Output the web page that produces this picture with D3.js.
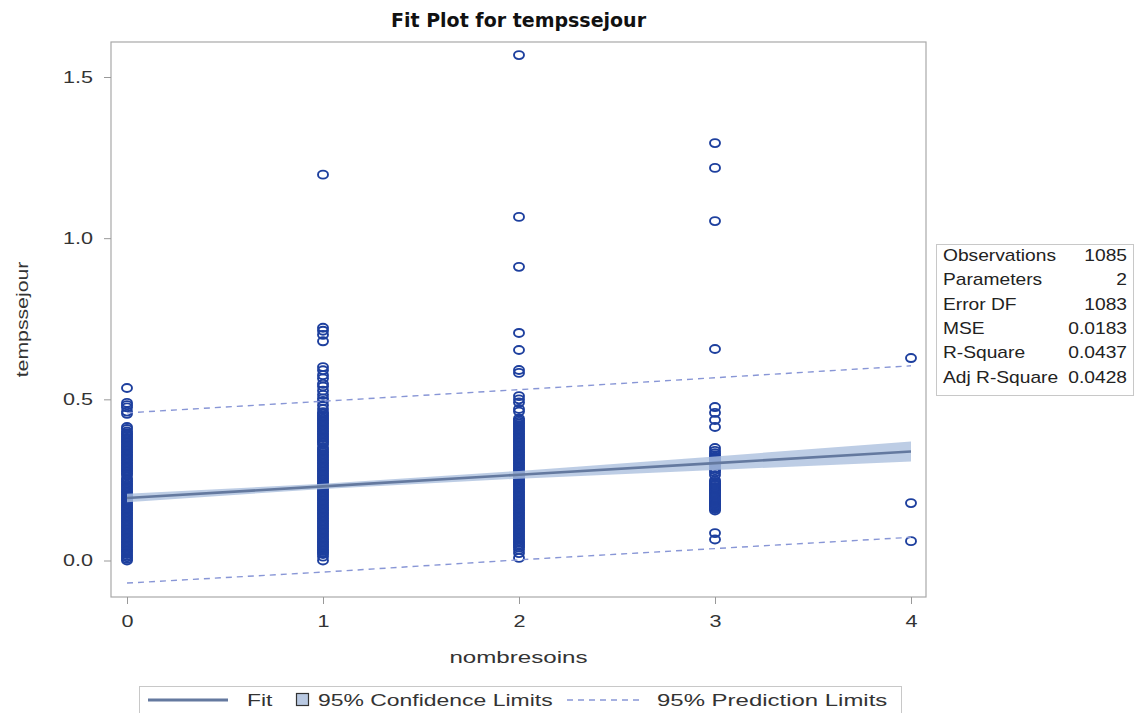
<!DOCTYPE html>
<html>
<head>
<meta charset="utf-8">
<script src="https://cdn.jsdelivr.net/npm/d3@7"></script>
<style>
  html, body { margin: 0; padding: 0; background: #fff; }
  svg { display: block; font-family: "Liberation Sans", Arial, sans-serif; }
</style>
</head>
<body>
<svg id="chart" width="1145" height="713"></svg>
<script>
// ---------------- DATA ----------------
const titleText = "Fit Plot for tempssejour";
const xLabel = "nombresoins";
const yLabel = "tempssejour";
const xTicks = [0, 1, 2, 3, 4];
const yTicks = [0.0, 0.5, 1.0, 1.5];

// observed points (nombresoins -> tempssejour values)
const obsX0 = [0.535, 0.489, 0.482, 0.475, 0.462, 0.455, 0.414, 0.408,
  0.400, 0.395, 0.390, 0.385, 0.380, 0.375, 0.370, 0.365, 0.360, 0.355, 0.350, 0.345, 0.340, 0.335, 0.330, 0.325, 0.320,
  0.315, 0.310, 0.305, 0.300, 0.295, 0.290, 0.285, 0.280, 0.275, 0.270, 0.265, 0.255, 0.250, 0.245, 0.240,
  0.235, 0.230, 0.225, 0.220, 0.215, 0.210, 0.205, 0.200, 0.195, 0.190, 0.185, 0.180, 0.175, 0.170, 0.165, 0.160,
  0.155, 0.150, 0.145, 0.140, 0.135, 0.130, 0.125, 0.120, 0.115, 0.110, 0.105, 0.100, 0.095, 0.090, 0.085, 0.080,
  0.075, 0.070, 0.065, 0.060, 0.055, 0.050, 0.045, 0.040, 0.035, 0.030, 0.026, 0.020, 0.015, 0.010, 0.005, 0.000];
const obsX1 = [1.197, 0.722, 0.713, 0.700, 0.680, 0.600, 0.590, 0.575, 0.565, 0.548, 0.540, 0.527, 0.514, 0.503,
  0.495, 0.482, 0.470, 0.460, 0.455, 0.450, 0.445, 0.440, 0.435, 0.430, 0.425, 0.420, 0.415, 0.410, 0.405, 0.400,
  0.395, 0.390, 0.385, 0.380, 0.375, 0.370, 0.365, 0.360, 0.350, 0.345, 0.340, 0.335, 0.330, 0.325, 0.320,
  0.315, 0.310, 0.305, 0.300, 0.295, 0.290, 0.285, 0.280, 0.275, 0.270, 0.265, 0.260, 0.255, 0.250, 0.245, 0.240,
  0.235, 0.230, 0.225, 0.220, 0.215, 0.210, 0.205, 0.200, 0.195, 0.190, 0.185, 0.180, 0.175, 0.170, 0.165, 0.160,
  0.155, 0.150, 0.145, 0.140, 0.135, 0.130, 0.125, 0.120, 0.115, 0.110, 0.105, 0.100, 0.095, 0.090, 0.085, 0.080,
  0.075, 0.070, 0.065, 0.060, 0.055, 0.050, 0.045, 0.040, 0.035, 0.030, 0.025, 0.020, 0.012, 0.000];
const obsX2 = [1.568, 1.066, 0.911, 0.706, 0.653, 0.591, 0.582, 0.510, 0.500, 0.490, 0.470, 0.462,
  0.440, 0.435, 0.430, 0.425, 0.420, 0.415, 0.410, 0.405, 0.400, 0.395, 0.390, 0.385, 0.380, 0.375, 0.370, 0.365,
  0.360, 0.355, 0.350, 0.345, 0.340, 0.335, 0.330, 0.325, 0.320, 0.315, 0.310, 0.305, 0.300, 0.295, 0.290, 0.285,
  0.280, 0.275, 0.270, 0.265, 0.260, 0.255, 0.250, 0.245, 0.240, 0.235, 0.230, 0.225, 0.220, 0.215, 0.210, 0.205,
  0.200, 0.195, 0.190, 0.185, 0.180, 0.175, 0.170, 0.165, 0.160, 0.155, 0.150, 0.145, 0.140, 0.135, 0.130, 0.125,
  0.120, 0.115, 0.110, 0.105, 0.100, 0.095, 0.090, 0.085, 0.080, 0.075, 0.070, 0.065, 0.060, 0.055, 0.050, 0.045,
  0.040, 0.033, 0.023, 0.008];
const obsX3 = [1.295, 1.218, 1.053, 0.656, 0.476, 0.458, 0.436, 0.414,
  0.349, 0.340, 0.333, 0.327, 0.322, 0.318, 0.314, 0.310, 0.306, 0.302, 0.298, 0.295, 0.286, 0.280, 0.274, 0.265,
  0.249, 0.244, 0.240, 0.236, 0.233, 0.228, 0.225, 0.222, 0.218, 0.215, 0.212, 0.209, 0.204, 0.200, 0.197, 0.194,
  0.190, 0.187, 0.183, 0.180, 0.176, 0.173, 0.169, 0.166, 0.163, 0.160, 0.155, 0.085, 0.065];
const obsX4 = [0.628, 0.178, 0.060];
const obsByX = [obsX0, obsX1, obsX2, obsX3, obsX4];

// fit, confidence and prediction limits read at x = 0..4
const fitX = [0, 1, 2, 3, 4];
const fitY = [0.194, 0.230, 0.266, 0.302, 0.338];
const clLower = [0.181, 0.222, 0.254, 0.281, 0.307];
const clUpper = [0.207, 0.238, 0.278, 0.323, 0.369];
const plLower = [-0.070, -0.036, 0.002, 0.037, 0.072];
const plUpper = [0.458, 0.494, 0.530, 0.567, 0.604];

// fit statistics table
const statLabels = ["Observations", "Parameters", "Error DF", "MSE", "R-Square", "Adj R-Square"];
const statValues = ["1085", "2", "1083", "0.0183", "0.0437", "0.0428"];

// legend
const legendLabels = ["Fit", "95% Confidence Limits", "95% Prediction Limits"];

// ---------------- DRAW ----------------
const svg = d3.select("#chart");
const frame = { left: 111, top: 42, right: 926, bottom: 597 };

const x = d3.scaleLinear().domain([0, 4]).range([127, 911]);
const y = d3.scaleLinear().domain([0, 1.5]).range([560.5, 77]);

const markerColor = "#1d3f9e";
const fitColor = "#64799f";
const bandColor = "#adc0de";
const predColor = "#8896d6";
const textColor = "#333";

// place horizontally-stretched text
function sText(parent, px, py, str, opts) {
  const o = Object.assign({ size: 17, sx: 1.25, anchor: "start", fill: textColor, weight: "normal" }, opts || {});
  return parent.append("text")
    .attr("transform", `translate(${px},${py}) scale(${o.sx},1)`)
    .attr("text-anchor", o.anchor)
    .attr("font-size", o.size).attr("font-weight", o.weight)
    .attr("fill", o.fill)
    .text(str);
}

svg.append("rect").attr("width", 1145).attr("height", 713).attr("fill", "#fff");

// title
svg.append("text")
  .attr("x", (frame.left + frame.right) / 2).attr("y", 27)
  .attr("text-anchor", "middle")
  .attr("font-size", 19).attr("font-weight", "bold").attr("fill", "#111")
  .attr("font-family", "'DejaVu Sans', 'Liberation Sans', sans-serif")
  .text(titleText);

// clip for plot area
svg.append("defs").append("clipPath").attr("id", "plotclip")
  .append("rect").attr("x", frame.left).attr("y", frame.top)
  .attr("width", frame.right - frame.left).attr("height", frame.bottom - frame.top);

const plot = svg.append("g").attr("clip-path", "url(#plotclip)");

// points
const pts = [];
obsByX.forEach((arr, i) => arr.forEach(v => pts.push({ x: xTicks[i], y: v })));
plot.append("g").selectAll("ellipse").data(pts).join("ellipse")
  .attr("cx", d => x(d.x)).attr("cy", d => y(d.y))
  .attr("rx", 5).attr("ry", 4)
  .attr("fill", "none").attr("stroke", markerColor).attr("stroke-width", 1.9);

// confidence band
const bandData = fitX.map((v, i) => ({ x: v, lo: clLower[i], hi: clUpper[i] }));
plot.append("path").datum(bandData)
  .attr("d", d3.area().x(d => x(d.x)).y0(d => y(d.lo)).y1(d => y(d.hi)))
  .attr("fill", bandColor).attr("fill-opacity", 0.8);

// fit line
const fitData = fitX.map((v, i) => ({ x: v, y: fitY[i] }));
plot.append("path").datum(fitData)
  .attr("d", d3.line().x(d => x(d.x)).y(d => y(d.y)))
  .attr("fill", "none").attr("stroke", fitColor).attr("stroke-width", 2.6);

// prediction limits
[plLower, plUpper].forEach(arr => {
  const dd = fitX.map((v, i) => ({ x: v, y: arr[i] }));
  plot.append("path").datum(dd)
    .attr("d", d3.line().x(d => x(d.x)).y(d => y(d.y)))
    .attr("fill", "none").attr("stroke", predColor).attr("stroke-width", 1.4)
    .attr("stroke-dasharray", "6,5");
});

// frame
svg.append("rect")
  .attr("x", frame.left).attr("y", frame.top)
  .attr("width", frame.right - frame.left).attr("height", frame.bottom - frame.top)
  .attr("fill", "none").attr("stroke", "#a8a8a8").attr("stroke-width", 1.2);

// axes
const tickSx = 1.27;
const yAxis = svg.append("g").attr("transform", `translate(${frame.left},0)`)
  .call(d3.axisLeft(y).tickValues(yTicks).tickFormat(d3.format(".1f")).tickSize(7).tickPadding(11));
const xAxis = svg.append("g").attr("transform", `translate(0,${frame.bottom})`)
  .call(d3.axisBottom(x).tickValues(xTicks).tickFormat(d3.format("d")).tickSize(7).tickPadding(11));
[yAxis, xAxis].forEach(g => {
  g.select(".domain").remove();
  g.selectAll(".tick line").attr("stroke", "#999").attr("stroke-width", 1);
  g.selectAll(".tick text").each(function () {
    const t = d3.select(this);
    const x0 = +t.attr("x") || 0;
    t.attr("x", x0 / tickSx).attr("transform", `scale(${tickSx},1)`)
      .attr("font-size", 17).attr("fill", textColor)
      .attr("font-family", "'Liberation Sans', Arial, sans-serif");
  });
});

// axis labels
sText(svg, (frame.left + frame.right) / 2, 663, xLabel, { anchor: "middle", size: 17, sx: 1.42 });
svg.append("text")
  .attr("transform", `translate(28,${(frame.top + frame.bottom) / 2}) rotate(-90) scale(1.25,1)`)
  .attr("text-anchor", "middle").attr("font-size", 17).attr("fill", textColor)
  .text(yLabel);

// stats table
const tbl = svg.append("g");
tbl.append("rect").attr("x", 936.5).attr("y", 244.5).attr("width", 197).attr("height", 151)
  .attr("fill", "#fff").attr("stroke", "#c8c8c8").attr("stroke-width", 1);
statLabels.forEach((lab, i) => {
  const yy = 261 + i * 24.3;
  sText(tbl, 943, yy, lab, { size: 16, sx: 1.2, fill: "#222" });
  sText(tbl, 1127, yy, statValues[i], { size: 16, sx: 1.2, fill: "#222", anchor: "end" });
});

// legend
const lg = svg.append("g");
lg.append("rect").attr("x", 139.5).attr("y", 686.5).attr("width", 762).attr("height", 40)
  .attr("fill", "#fff").attr("stroke", "#c8c8c8").attr("stroke-width", 1);
const ly = 700;
lg.append("line").attr("x1", 148).attr("x2", 228).attr("y1", ly).attr("y2", ly)
  .attr("stroke", fitColor).attr("stroke-width", 3);
sText(lg, 247, ly + 6, legendLabels[0], { size: 17, sx: 1.35 });
lg.append("rect").attr("x", 296.5).attr("y", 693.5).attr("width", 12).attr("height", 12)
  .attr("fill", "#b9c9e2").attr("stroke", "#333").attr("stroke-width", 1.2);
sText(lg, 318, ly + 6, legendLabels[1], { size: 17, sx: 1.35 });
lg.append("line").attr("x1", 567).attr("x2", 642).attr("y1", ly).attr("y2", ly)
  .attr("stroke", predColor).attr("stroke-width", 1.4).attr("stroke-dasharray", "6,5");
sText(lg, 657, ly + 6, legendLabels[2], { size: 17, sx: 1.41 });
</script>
</body>
</html>
